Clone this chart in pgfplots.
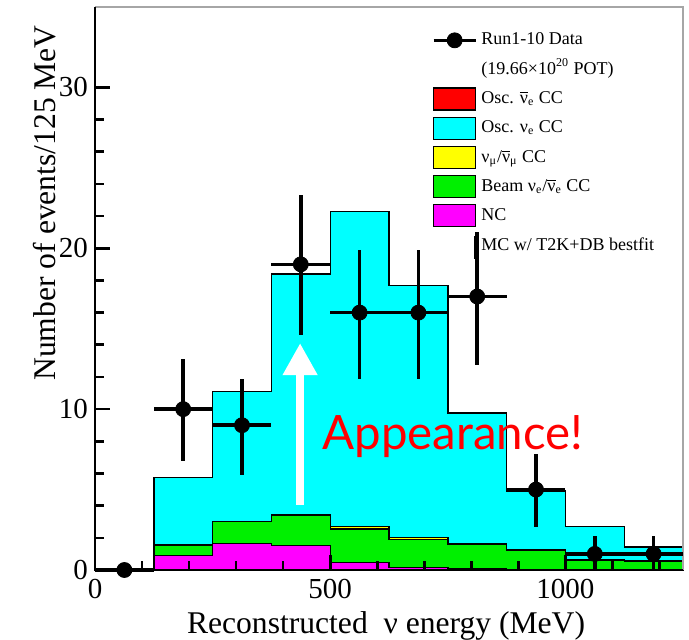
\documentclass[border=0pt]{standalone}
\usepackage{pgfplots}
\pgfplotsset{compat=1.18}
\usepackage{fontspec}
\setmainfont{Liberation Serif}
\newfontfamily\lato{Lato}
\usetikzlibrary{arrows.meta}
\definecolor{rcyan}{RGB}{0,255,255}
\definecolor{rgreen}{RGB}{0,240,0}
\definecolor{ryellow}{RGB}{255,255,0}
\definecolor{rred}{RGB}{255,0,0}
\definecolor{rmag}{RGB}{255,0,255}
\newcommand{\nub}{$\overline{\hbox{ν}}$}
\pgfplotsset{
  mybox/.style={legend image code/.code={\draw[##1,line width=0.6pt] (0pt,-5.5pt) rectangle (21pt,5.5pt);}},
  hist/.style={const plot, draw=black, line width=0.7pt, forget plot},
}
\begin{document}
\begin{tikzpicture}
\begin{axis}[
  name=ax,
  scale only axis, width=294pt, height=281.5pt,
  xmin=0, xmax=1250, ymin=0, ymax=35,
  clip=false,
  axis on top,
  axis line style={draw=none},
  tick pos=left,
  tick align=inside,
  xtick={0,500,1000}, minor x tick num=4,
  ytick={0,10,20,30}, minor y tick num=4,
  major tick length=7.5pt, minor tick length=4.5pt,
  tick style={black, line width=1.3pt},
  xtick style={draw=none},
  /pgf/number format/assume math mode=true,
  /pgf/number format/1000 sep={},
  tick label style={font=\fontsize{14.5}{16}\selectfont},
  xticklabel style={yshift=-1pt},
  xlabel={Reconstructed\ \ ν energy (MeV)},
  ylabel={Number of events/125 MeV},
  every axis x label/.style={at={(axis description cs:0.495,-0.112)}, anchor=base, font=\fontsize{15.8}{18}\selectfont},
  every axis y label/.style={at={(axis description cs:-0.068,0.652)}, anchor=base, rotate=90, font=\fontsize{15.8}{18}\selectfont},
  legend style={at={(axis description cs:0.562,0.969)}, anchor=north west, draw=none, fill=none,
    font=\fontsize{9}{10.5}\selectfont, row sep=3pt, legend cell align=left},
]
% legend
\addlegendimage{legend image code/.code={\draw[black,line width=1.8pt] (0pt,0pt)--(21pt,0pt); \fill[black] (10.5pt,0pt) circle (3.75pt);}}
\addlegendentry{Run1-10 Data}
\addlegendimage{empty legend}
\addlegendentry{(19.66×10\smash{\textsuperscript{20}} POT)}
\addlegendimage{mybox, fill=rred, draw=black}
\addlegendentry{Osc. \nub\textsubscript{e} CC}
\addlegendimage{mybox, fill=rcyan, draw=black}
\addlegendentry{Osc. ν\textsubscript{e} CC}
\addlegendimage{mybox, fill=ryellow, draw=black}
\addlegendentry{ν\textsubscript{μ}/\nub\textsubscript{μ} CC}
\addlegendimage{mybox, fill=rgreen, draw=black}
\addlegendentry{Beam ν\textsubscript{e}/\nub\textsubscript{e} CC}
\addlegendimage{mybox, fill=rmag, draw=black}
\addlegendentry{NC}
\addlegendimage{legend image code/.code={\draw[black,line width=1.2pt] (21pt,4.5pt)--(21pt,-7pt);}}
\addlegendentry{MC w/ T2K+DB bestfit}

% stacked histograms (cumulative tops), drawn from top layer down
\addplot[hist, fill=rcyan] coordinates {(125,5.75) (250,11.1) (375,18.4) (500,22.3) (625,17.7) (750,9.75) (875,4.9) (1000,2.7) (1125,1.44) (1250,1.44)} \closedcycle;
\addplot[hist, fill=rred] coordinates {(125,1.57) (250,3.03) (375,3.45) (500,2.7) (625,2.02) (750,1.62) (875,1.24) (1000,0.63) (1125,0.57) (1250,0.57)} \closedcycle;
\addplot[hist, fill=ryellow] coordinates {(125,1.57) (250,3.03) (375,3.45) (500,2.7) (625,2.02) (750,1.62) (875,1.24) (1000,0.63) (1125,0.57) (1250,0.57)} \closedcycle;
\addplot[hist, fill=rgreen] coordinates {(125,1.55) (250,3.0) (375,3.4) (500,2.56) (625,1.9) (750,1.6) (875,1.22) (1000,0.62) (1125,0.56) (1250,0.56)} \closedcycle;
\addplot[hist, fill=rmag] coordinates {(125,0.9) (250,1.65) (375,1.52) (500,0.45) (625,0.15) (750,0.08) (875,0.03) (1000,0) (1125,0) (1250,0)} \closedcycle;

% frame and x tick marks
\draw[gray!70, line width=0.8pt] (rel axis cs:0,1) -- (rel axis cs:1,1) -- (rel axis cs:1,0);
\draw[black, line width=1pt] (rel axis cs:0,1) -- (rel axis cs:0,0) -- (rel axis cs:1,0);
\pgfplotsinvokeforeach{100,200,300,400,600,700,800,900,1100,1200}{
  \draw[black, line width=1.3pt] (axis cs:#1,0) -- ++(0pt,4.5pt);
}
\pgfplotsinvokeforeach{500,1000}{
  \draw[black, line width=1.3pt] (axis cs:#1,0) -- ++(0pt,7.5pt);
}

% data
\addplot[forget plot, only marks, mark=*, mark size=3.75pt, black,
  error bars/.cd, x dir=both, x explicit, y dir=both, y explicit, error mark=none,
  error bar style={line width=1.8pt, black}] coordinates {
(62.5,0) +- (62.5,0)
(187.5,10) += (62.5,3.1) -= (62.5,3.25)
(312.5,9) += (62.5,2.9) -= (62.5,3.1)
(437.5,19) += (62.5,4.3) -= (62.5,4.4)
(562.5,16) += (62.5,3.9) -= (62.5,4.1)
(687.5,16) += (62.5,3.9) -= (62.5,4.1)
(812.5,17) += (62.5,4.0) -= (62.5,4.25)
(937.5,5) += (62.5,2.2) -= (62.5,2.3)
(1062.5,1) += (62.5,1.1) -= (62.5,1.0)
(1187.5,1) += (62.5,1.1) -= (62.5,1.0)
};

% annotation
\draw[white, line width=3.8pt, -{Triangle[width=16.5pt,length=16pt]}] (axis cs:436,4.05) -- (axis cs:436,14.1);
\node[anchor=base west, text=red, font=\lato\fontsize{23.7}{27}\selectfont, inner sep=0pt] at (axis cs:483,7.5) {Appearance!};
\end{axis}
\pgfresetboundingbox
\path[use as bounding box] ([shift={(-47.5pt,-35pt)}]ax.south west) rectangle ([shift={(3pt,3.5pt)}]ax.north east);
\end{tikzpicture}
\end{document}
